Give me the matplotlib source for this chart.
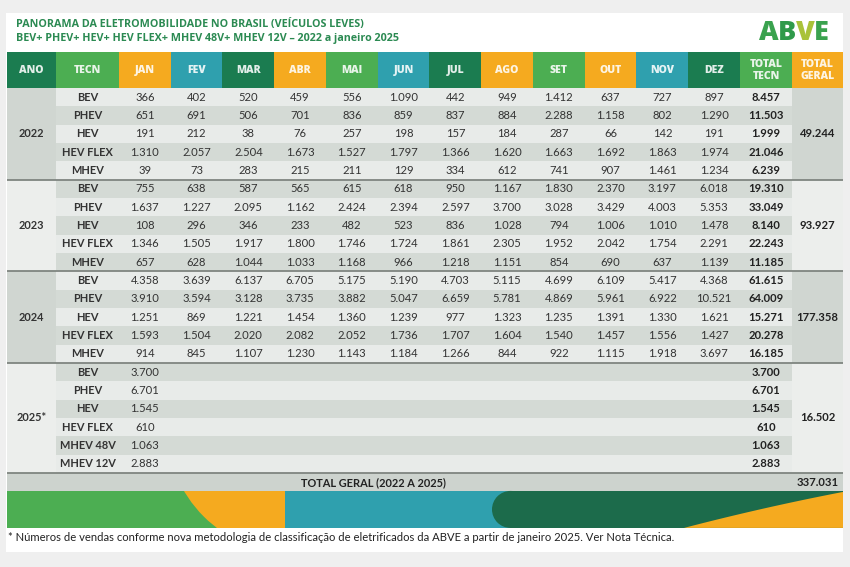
import matplotlib
matplotlib.use('Agg')
import matplotlib.pyplot as plt
from matplotlib.patches import Rectangle, Circle, Polygon
import numpy as np

# ---------------- DATA ----------------
years = ['2022', '2023', '2024', '2025*']
months = ['JAN', 'FEV', 'MAR', 'ABR', 'MAI', 'JUN', 'JUL', 'AGO', 'SET', 'OUT', 'NOV', 'DEZ']
header_labels = ['ANO', 'TECN'] + months + ['TOTAL\nTECN', 'TOTAL\nGERAL']

techs_2022 = ['BEV', 'PHEV', 'HEV', 'HEV FLEX', 'MHEV']
techs_2023 = ['BEV', 'PHEV', 'HEV', 'HEV FLEX', 'MHEV']
techs_2024 = ['BEV', 'PHEV', 'HEV', 'HEV FLEX', 'MHEV']
techs_2025 = ['BEV', 'PHEV', 'HEV', 'HEV FLEX', 'MHEV 48V', 'MHEV 12V']

sales_2022 = [
    [366, 402, 520, 459, 556, 1090, 442, 949, 1412, 637, 727, 897],
    [651, 691, 506, 701, 836, 859, 837, 884, 2288, 1158, 802, 1290],
    [191, 212, 38, 76, 257, 198, 157, 184, 287, 66, 142, 191],
    [1310, 2057, 2504, 1673, 1527, 1797, 1366, 1620, 1663, 1692, 1863, 1974],
    [39, 73, 283, 215, 211, 129, 334, 612, 741, 907, 1461, 1234],
]
sales_2023 = [
    [755, 638, 587, 565, 615, 618, 950, 1167, 1830, 2370, 3197, 6018],
    [1637, 1227, 2095, 1162, 2424, 2394, 2597, 3700, 3028, 3429, 4003, 5353],
    [108, 296, 346, 233, 482, 523, 836, 1028, 794, 1006, 1010, 1478],
    [1346, 1505, 1917, 1800, 1746, 1724, 1861, 2305, 1952, 2042, 1754, 2291],
    [657, 628, 1044, 1033, 1168, 966, 1218, 1151, 854, 690, 637, 1139],
]
sales_2024 = [
    [4358, 3639, 6137, 6705, 5175, 5190, 4703, 5115, 4699, 6109, 5417, 4368],
    [3910, 3594, 3128, 3735, 3882, 5047, 6659, 5781, 4869, 5961, 6922, 10521],
    [1251, 869, 1221, 1454, 1360, 1239, 977, 1323, 1235, 1391, 1330, 1621],
    [1593, 1504, 2020, 2082, 2052, 1736, 1707, 1604, 1540, 1457, 1556, 1427],
    [914, 845, 1107, 1230, 1143, 1184, 1266, 844, 922, 1115, 1918, 3697],
]
sales_2025 = [[3700], [6701], [1545], [610], [1063], [2883]]

tot_tecn_2022 = [8457, 11503, 1999, 21046, 6239]
tot_tecn_2023 = [19310, 33049, 8140, 22243, 11185]
tot_tecn_2024 = [61615, 64009, 15271, 20278, 16185]
tot_tecn_2025 = [3700, 6701, 1545, 610, 1063, 2883]

tot_geral = [49244, 93927, 177358, 16502]
grand_total = 337031
grand_label = 'TOTAL GERAL (2022 A 2025)'

title1 = 'PANORAMA DA ELETROMOBILIDADE NO BRASIL (VEÍCULOS LEVES)'
title2 = 'BEV+ PHEV+ HEV+ HEV FLEX+ MHEV 48V+ MHEV 12V – 2022 a janeiro 2025'
footnote = ('* Números de vendas conforme nova metodologia de classificação de '
            'eletrificados da ABVE a partir de janeiro 2025. Ver Nota Técnica.')

groups = [
    (techs_2022, sales_2022, tot_tecn_2022),
    (techs_2023, sales_2023, tot_tecn_2023),
    (techs_2024, sales_2024, tot_tecn_2024),
    (techs_2025, sales_2025, tot_tecn_2025),
]

# ---------------- STYLE ----------------
DG = '#1b7c50'
G = '#4cae52'
O = '#f5aa1f'
T = '#2fa0ae'
header_colors = [DG, G, O, T, DG, O, G, T, DG, O, G, O, T, DG, G, O]
ROW_LIGHT = '#e8ebe9'
ROW_DARK = '#d4dad5'
GRP_DARK = '#d0d6d1'
GRP_LIGHT = '#eceeec'
TXT = '#333333'
TITLE_C = '#2b8a52'

FONT = 'Lato'
plt.rcParams['font.family'] = [FONT, 'DejaVu Sans']


def fmt(v):
    return format(v, ',').replace(',', '.')


def pt(px):
    return px * 0.72


fig = plt.figure(figsize=(8.5, 5.67), dpi=100)
fig.patch.set_facecolor('#efefef')
ax = fig.add_axes([0, 0, 1, 1])
ax.set_xlim(0, 850)
ax.set_ylim(567, 0)
ax.axis('off')

# white card
ax.add_patch(Rectangle((6, 13), 837, 539, facecolor='white', edgecolor='none'))

# titles
ax.text(16, 25, title1, fontsize=pt(10.7), fontweight='bold', color=TITLE_C,
        va='center', ha='left', family='Open Sans')
ax.text(16, 38.5, title2, fontsize=pt(10.7), fontweight='bold', color=TITLE_C,
        va='center', ha='left', family='Open Sans')

# logo
lx = 759
for ch, c in zip('ABVE', ['#3aa24e', '#2f9a4a', '#a9c23a', '#3aa24e']):
    ax.text(lx, 33, ch, fontsize=pt(27), fontweight='heavy', color=c,
            va='center', ha='left', family='Open Sans')
    lx += {'A': 19, 'B': 18, 'V': 18, 'E': 16}[ch]

# columns
col_w = [49, 63] + [51.75] * 12 + [52, 51]
x_edges = 7 + np.concatenate([[0], np.cumsum(col_w)])
x_cent = (x_edges[:-1] + x_edges[1:]) / 2

header_top, header_bot = 52, 88
row_h = 18.33

# header
for i, lab in enumerate(header_labels):
    ax.add_patch(Rectangle((x_edges[i], header_top), col_w[i], header_bot - header_top,
                           facecolor=header_colors[i], edgecolor='none'))
    ax.text(x_cent[i], (header_top + header_bot) / 2 + 0.5, lab, fontsize=pt(10.5),
            fontweight='heavy', color='white', alpha=0.88, ha='center', va='center',
            linespacing=1.05, family='Open Sans')

# body
y = header_bot
ridx = 0
sep_ys = []
for g, (techs, sales, tots) in enumerate(groups):
    gy0 = y
    n = len(techs)
    for r in range(n):
        col = ROW_LIGHT if ridx % 2 == 0 else ROW_DARK
        ax.add_patch(Rectangle((x_edges[1], y), x_edges[15] - x_edges[1], row_h,
                               facecolor=col, edgecolor='none'))
        yc = y + row_h / 2
        ax.text(x_cent[1], yc, techs[r], fontsize=pt(11), fontweight='bold', color=TXT,
                ha='center', va='center')
        for m, v in enumerate(sales[r]):
            ax.text(x_cent[2 + m], yc, fmt(v), fontsize=pt(11.3), color=TXT,
                    ha='center', va='center')
        ax.text(x_cent[14], yc, fmt(tots[r]), fontsize=pt(11.3), fontweight='bold',
                color='#222222', ha='center', va='center')
        y += row_h
        ridx += 1
    gcol = GRP_DARK if g % 2 == 0 else GRP_LIGHT
    ax.add_patch(Rectangle((x_edges[0], gy0), col_w[0], y - gy0, facecolor=gcol, edgecolor='none'))
    ax.add_patch(Rectangle((x_edges[15], gy0), col_w[15], y - gy0, facecolor=gcol, edgecolor='none'))
    ax.text(x_cent[0], (gy0 + y) / 2, years[g], fontsize=pt(11), fontweight='bold',
            color=TXT, ha='center', va='center')
    ax.text(x_cent[15], (gy0 + y) / 2, fmt(tot_geral[g]), fontsize=pt(11.3), fontweight='bold',
            color='#222222', ha='center', va='center')
    sep_ys.append(y)

# total row
ax.add_patch(Rectangle((x_edges[0], y), x_edges[-1] - x_edges[0], 18,
                       facecolor='#cdd3ce', edgecolor='none'))
ax.text((x_edges[0] + x_edges[14]) / 2, y + 9.5, grand_label, fontsize=pt(11),
        fontweight='bold', color='#222222', ha='center', va='center')
ax.text(x_cent[15], y + 9.5, fmt(grand_total), fontsize=pt(11.3), fontweight='bold',
        color='#222222', ha='center', va='center')

for sy in sep_ys:
    ax.plot([x_edges[0], x_edges[-1]], [sy, sy], color='#7f8580', lw=1.3,
            solid_capstyle='butt')

# decorative band
by0, by1 = y + 18, y + 55
ax.add_patch(Rectangle((7, by0), 280, by1 - by0, facecolor=G, edgecolor='none'))
c1 = Circle((292, 428), 125, facecolor=O, edgecolor='none')
ax.add_patch(c1)
c1.set_clip_path(Rectangle((7, by0), 278, by1 - by0, transform=ax.transData))
ax.add_patch(Rectangle((285, by0), 230, by1 - by0, facecolor=T, edgecolor='none'))
rr = (by1 - by0) / 2
ax.add_patch(Rectangle((492 + rr, by0), 843 - 492 - rr, by1 - by0, facecolor='#1c6b4b',
                       edgecolor='none'))
ax.add_patch(Circle((492 + rr, by0 + rr), rr, facecolor='#1c6b4b', edgecolor='none'))
xs = np.linspace(684, 843, 40)
tt = (xs - 684) / (843 - 684)
ys = by1 - (by1 - by0 - 1) * (tt * 1.15 - 0.15 * tt ** 2)
poly = np.column_stack([np.concatenate([xs, [843]]), np.concatenate([ys, [by1]])])
ax.add_patch(Polygon(poly, closed=True, facecolor=O, edgecolor='none'))

# footnote
ax.text(8, by1 + 10, footnote, fontsize=pt(11.25), color='#222222', ha='left', va='center')

fig.savefig('out.png', dpi=100, facecolor=fig.get_facecolor())
